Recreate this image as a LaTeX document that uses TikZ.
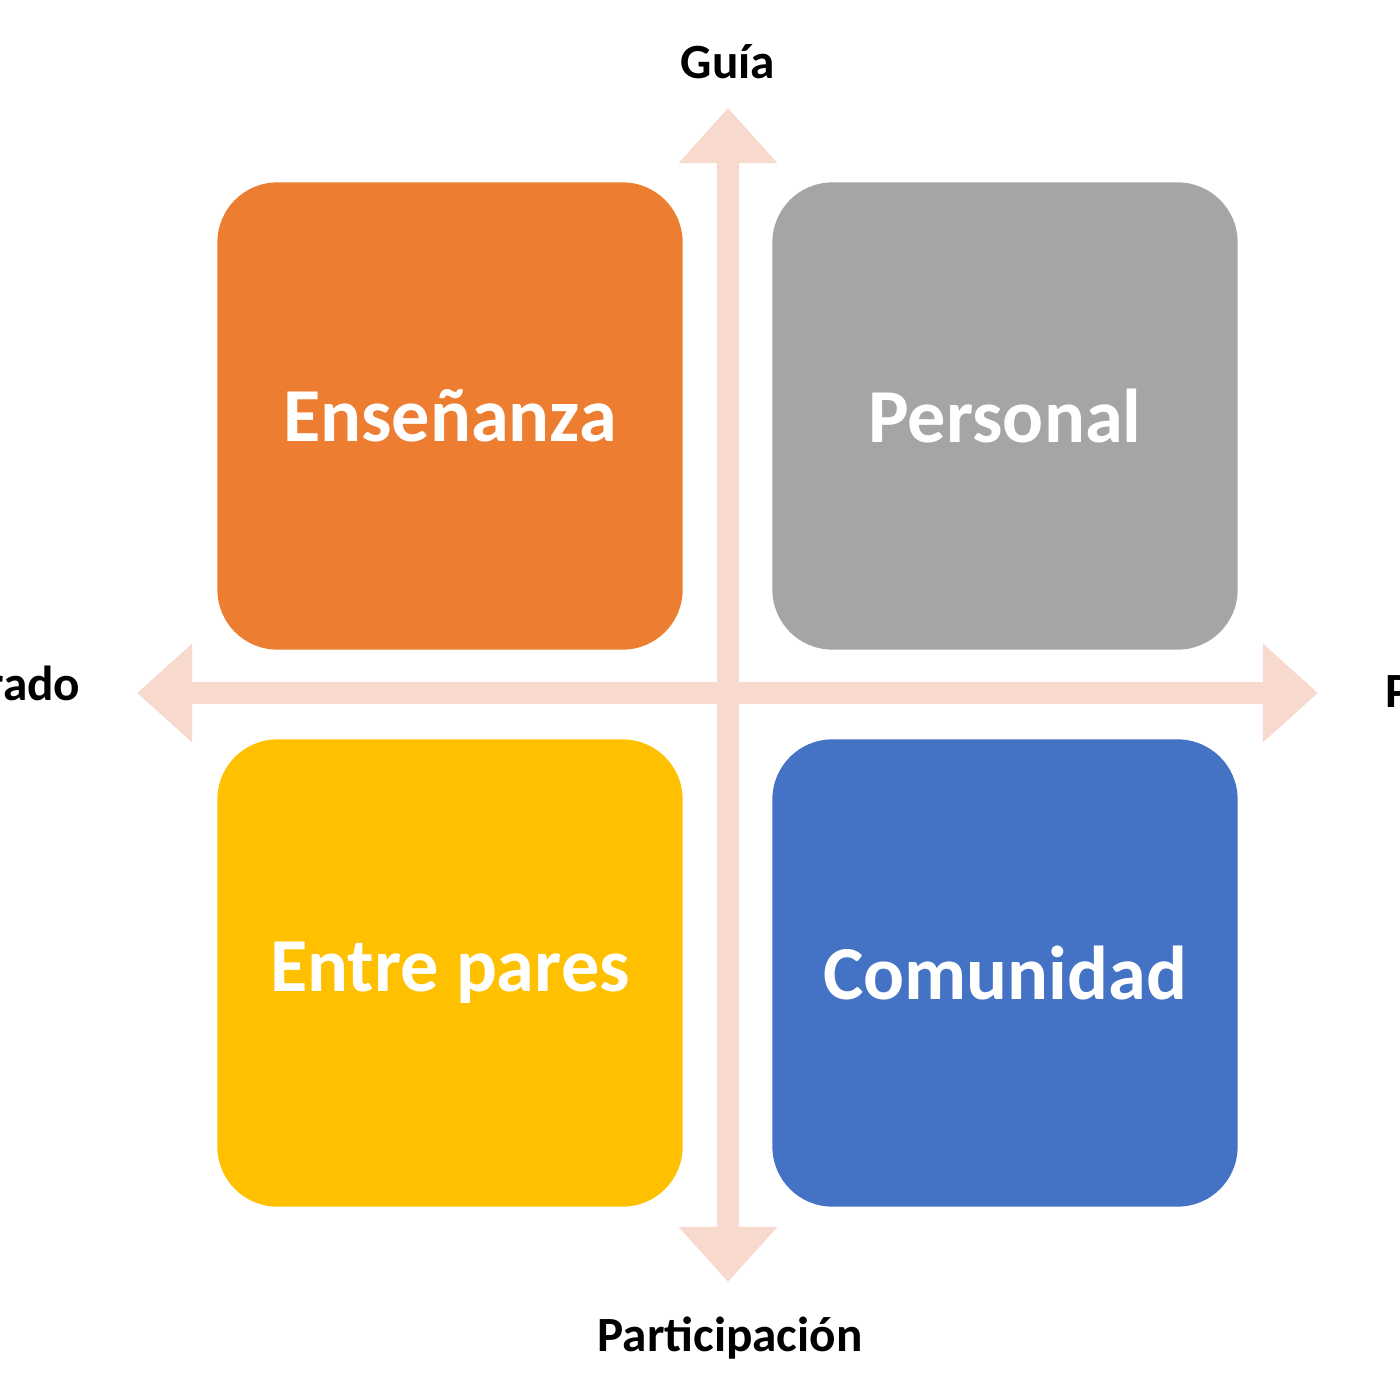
\documentclass[tikz,border=0pt]{standalone}
\usepackage{fontspec}
\setmainfont{Carlito}
\usetikzlibrary{arrows.meta}
\definecolor{axisc}{HTML}{F8D9CE}
\definecolor{orangec}{HTML}{ED7D31}
\definecolor{grayc}{HTML}{A5A5A5}
\definecolor{yellowc}{HTML}{FFC000}
\definecolor{bluec}{HTML}{4472C4}
\begin{document}
\begin{tikzpicture}[x=0.01cm,y=-0.01cm,
  quad/.style={draw=none,rounded corners=0.6cm,minimum width=4.65cm,minimum height=4.67cm,text=white,font=\bfseries\fontsize{21.7}{24}\selectfont},
  axis/.style={draw=axisc,line width=0.22cm,-{Triangle[width=0.95cm,length=0.55cm]}},
  lab/.style={font=\bfseries\fontsize{14}{16}\selectfont,text=black}]
\clip (0,0) rectangle (1400,1400);
\useasboundingbox (0,0) rectangle (1400,1400);
\coordinate (c) at (728,693);
\coordinate (top) at (728,108);
\coordinate (bot) at (728,1282);
\coordinate (lft) at (137,693);
\coordinate (rgt) at (1318,693);
\draw[axis] (c) -- (top);
\draw[axis] (c) -- (bot);
\draw[axis] (c) -- (lft);
\draw[axis] (c) -- (rgt);
\node[quad,fill=orangec] (ens) at (450,416) {Enseñanza};
\node[quad,fill=grayc] (per) at (1005,416) {Personal};
\node[quad,fill=yellowc] (ent) at (450,973) {Entre pares};
\node[quad,fill=bluec] (com) at (1005,973) {Comunidad};
\node[lab] (g) at (728,62) {Guía};
\node[lab] (p) at (730,1338) {Participación};
\node[lab,anchor=east,inner sep=0pt] (l) at (81,683) {Estructurado};
\node[lab,anchor=west,inner sep=0pt] (r) at (1385,690) {Personalizado};
\end{tikzpicture}
\end{document}
